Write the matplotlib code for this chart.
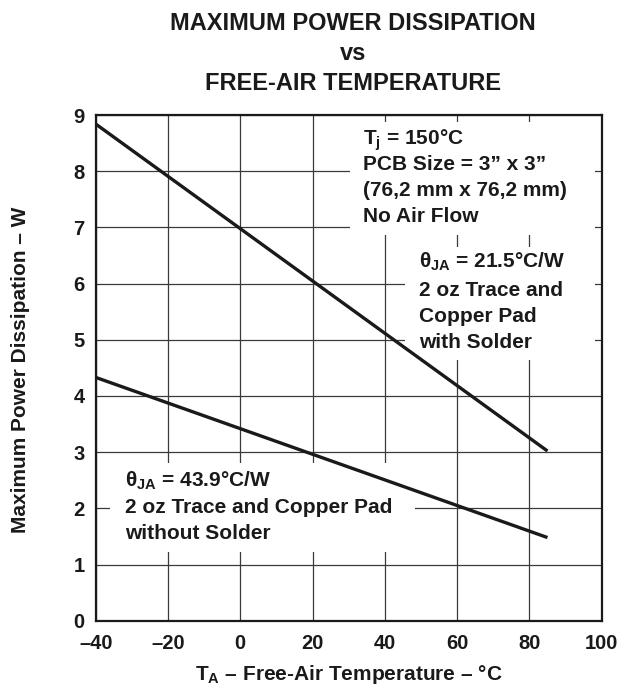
import matplotlib
matplotlib.use("Agg")
import matplotlib.pyplot as plt
from matplotlib.patches import Rectangle

plt.rcParams["font.family"] = ["Liberation Sans", "DejaVu Sans"]
plt.rcParams["font.weight"] = "bold"
plt.rcParams["mathtext.fontset"] = "custom"
plt.rcParams["mathtext.rm"] = "Liberation Sans:bold"
plt.rcParams["mathtext.it"] = "Liberation Sans:bold"
plt.rcParams["mathtext.bf"] = "Liberation Sans:bold"
plt.rcParams["mathtext.sf"] = "Liberation Sans:bold"

# Derating curves (free-air temperature in degC, max dissipation in W)
temp_c = [-40, 85]
power_solder = [8.84, 3.02]      # theta_JA = 21.5 C/W
power_no_solder = [4.33, 1.48]   # theta_JA = 43.9 C/W

x_ticks = [-40, -20, 0, 20, 40, 60, 80, 100]
x_tick_labels = ["\u201340", "\u201320", "0", "20", "40", "60", "80", "100"]
y_ticks = [0, 1, 2, 3, 4, 5, 6, 7, 8, 9]
y_tick_labels = [str(v) for v in y_ticks]

title_lines = ["MAXIMUM POWER DISSIPATION", "vs", "FREE-AIR TEMPERATURE"]
note_conditions = ["T$_\\mathrm{j}$ = 150\u00b0C",
                   "PCB Size = 3\u201d x 3\u201d",
                   "(76,2 mm x 76,2 mm)",
                   "No Air Flow"]
note_solder = ["\u03b8$_\\mathrm{JA}$ = 21.5\u00b0C/W",
               "2 oz Trace and",
               "Copper Pad",
               "with Solder"]
note_no_solder = ["\u03b8$_\\mathrm{JA}$ = 43.9\u00b0C/W",
                  "2 oz Trace and Copper Pad",
                  "without Solder"]

ink = "#1a1a1a"
W, H = 627, 688
fig = plt.figure(figsize=(W / 100, H / 100), dpi=100)
ax = fig.add_axes([95.7 / W, 1 - 620.7 / H, 506.0 / W, 505.7 / H])

ax.set_xlim(-40, 100)
ax.set_ylim(0, 9)
ax.set_xticks(x_ticks)
ax.set_xticklabels(x_tick_labels)
ax.set_yticks(y_ticks)
ax.set_yticklabels(y_tick_labels)
ax.tick_params(axis="both", length=0, labelsize=14.5, colors=ink)
ax.tick_params(axis="y", pad=8)
ax.tick_params(axis="x", pad=9.5)
for lab in ax.get_xticklabels() + ax.get_yticklabels():
    lab.set_fontweight("bold")

ax.set_axisbelow(True)
ax.grid(True, color="#3a3a3a", linewidth=0.9)
for sp in ax.spines.values():
    sp.set_linewidth(1.6)
    sp.set_color(ink)
    sp.set_zorder(5)

# white panels behind the annotations (break the grid)
for (x0, y0, x1, y1) in [(30.4, 6.865, 98.2, 8.875),
                         (45.6, 4.641, 98.2, 6.651),
                         (-36.0, 1.224, 48.4, 2.808)]:
    ax.add_patch(Rectangle((x0, y0), x1 - x0, y1 - y0,
                           facecolor="white", edgecolor="none", zorder=1))

ax.plot(temp_c, power_solder, color=ink, linewidth=2.4, zorder=3,
        solid_capstyle="butt")
ax.plot(temp_c, power_no_solder, color=ink, linewidth=2.4, zorder=3,
        solid_capstyle="butt")


def note(lines, x, baselines):
    for s, yb in zip(lines, baselines):
        ax.text(x, yb, s, fontsize=15, fontweight="bold", color=ink,
                ha="left", va="baseline", zorder=4)


note(note_conditions, 34.05, [8.466, 8.021, 7.559, 7.101])
note(note_solder, 49.5, [6.278, 5.785, 5.322, 4.854])
note(note_no_solder, -31.9, [2.386, 1.918, 1.456])

for s, yb in zip(title_lines, [30, 60, 90]):
    fig.text(353 / W, 1 - yb / H, s, fontsize=17, fontweight="bold",
             color=ink, ha="center", va="baseline")

fig.text(20.5 / W, 1 - 370 / H, "Maximum Power Dissipation \u2013 W",
         rotation=90, fontsize=15, fontweight="bold", color=ink,
         ha="center", va="center")
fig.text(348.7 / W, 1 - 680 / H,
         "T$_\\mathrm{A}$ \u2013 Free-Air Temperature \u2013 \u00b0C",
         fontsize=15, fontweight="bold", color=ink,
         ha="center", va="baseline")

fig.savefig("out.png", dpi=100, facecolor="white")
